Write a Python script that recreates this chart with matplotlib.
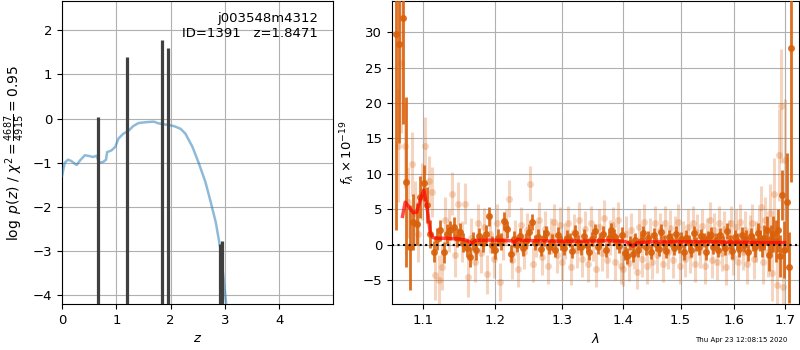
import numpy as np
import matplotlib
matplotlib.use('Agg')
import matplotlib.pyplot as plt
from matplotlib.ticker import NullLocator

# ---- redshift fit: log p(z) curve and spikes
pz_z = [0, 0.05, 0.11, 0.17, 0.27, 0.33, 0.42, 0.51, 0.57, 0.64, 0.68, 0.76,
        0.81, 0.83, 0.91, 0.98, 1.04, 1.13, 1.22, 1.31, 1.41, 1.56, 1.69, 1.78,
        1.93, 2.06, 2.18, 2.27, 2.40, 2.52, 2.64, 2.73, 2.83, 2.92, 3.03]
pz_log = [-1.3, -1.0, -0.93, -0.96, -1.05, -0.95, -0.83, -0.85, -0.87, -0.84,
          -1.0, -0.98, -0.93, -0.76, -0.72, -0.64, -0.45, -0.34, -0.28, -0.17,
          -0.10, -0.08, -0.07, -0.11, -0.14, -0.17, -0.23, -0.34, -0.64, -1.02,
          -1.44, -1.86, -2.35, -2.99, -4.3]
spike_z = [0.664, 1.192, 1.849, 1.954, 2.91, 2.943]
spike_peak = [0.04, 1.39, 1.77, 1.60, -2.84, -2.77]

# ---- 1D spectrum (binned, dark)
lam_dark = [1.0650, 1.0695, 1.0740, 1.0785, 1.0830, 1.0875, 1.0920, 1.0965, 1.1010, 1.1055,
            1.1100, 1.1145, 1.1190, 1.1235, 1.1280, 1.1325, 1.1370, 1.1415, 1.1460, 1.1505,
            1.1550, 1.1595, 1.1640, 1.1685, 1.1730, 1.1775, 1.1820, 1.1865, 1.1910, 1.1955,
            1.2000, 1.2045, 1.2090, 1.2135, 1.2180, 1.2225, 1.2270, 1.2315, 1.2360, 1.2405,
            1.2450, 1.2495, 1.2540, 1.2585, 1.2630, 1.2675, 1.2720, 1.2765, 1.2810, 1.2855,
            1.2900, 1.2945, 1.2990, 1.3035, 1.3080, 1.3125, 1.3170, 1.3215, 1.3260, 1.3305,
            1.3350, 1.3395, 1.3440, 1.3485, 1.3530, 1.3575, 1.3620, 1.3665, 1.3710, 1.3755,
            1.3800, 1.3845, 1.3890, 1.3935, 1.3980, 1.4025, 1.4070, 1.4115, 1.4160, 1.4205,
            1.4250, 1.4295, 1.4340, 1.4385, 1.4430, 1.4475, 1.4520, 1.4565, 1.4610, 1.4655,
            1.4700, 1.4745, 1.4790, 1.4835, 1.4880, 1.4925, 1.4970, 1.5015, 1.5060, 1.5105,
            1.5150, 1.5195, 1.5240, 1.5285, 1.5330, 1.5375, 1.5420, 1.5465, 1.5510, 1.5555,
            1.5600, 1.5645, 1.5690, 1.5735, 1.5780, 1.5825, 1.5870, 1.5915, 1.5960, 1.6005,
            1.6050, 1.6095, 1.6140, 1.6185, 1.6230, 1.6275, 1.6320, 1.6365, 1.6410, 1.6455,
            1.6500, 1.6545, 1.6590, 1.6635, 1.6680, 1.6725, 1.6770, 1.6815, 1.6860, 1.6905,
            1.6950, 1.6995, 1.7040, 1.7085, 1.7130]
flux_dark = [29.7, 28.3, 32.0, 8.9, -0.4, 3.2, 2.9, 6.7, 8.7, 5.6,
             1.5, -1.0, 0.8, 2.0, -1.1, 1.5, 2.0, 2.5, 1.0, 1.8,
             0.3, -0.5, -1.8, 0.5, -0.8, 1.2, 0.2, 1.5, 4.0, 0.0,
             -0.8, 1.0, 0.5, 3.3, 2.2, -1.3, 0.8, 0.0, 1.2, -0.5,
             0.5, 1.8, 3.2, 0.3, 1.1, -0.6, 0.9, 1.6, -0.3, 0.4,
             -0.8, 1.4, 0.2, -0.5, 1.0, 0.6, -0.9, 1.7, 0.3, -0.4,
             1.2, 0.0, -1.0, 0.8, 1.9, -0.3, 0.7, 1.5, -0.7, 0.9,
             2.0, 1.2, 0.4, -0.2, 1.4, -1.2, -1.6, 0.2, -1.3, 0.6,
             -0.8, 0.5, 1.6, -0.4, 0.9, -1.0, 1.3, 0.1, -0.6, 1.8,
             0.3, -0.9, 1.1, 0.6, -0.5, 1.5, -0.2, 0.8, -1.1, 1.0,
             0.4, -0.7, 1.6, 0.1, -0.4, 1.2, 0.7, -1.0, 0.9, 1.4,
             -0.3, 0.6, -0.8, 1.3, 0.2, -0.5, 1.9, 0.4, -0.9, 1.1,
             0.5, -0.6, 1.4, 0.0, 0.8, -1.1, 1.2, 0.3, -0.4, 1.7,
             0.6, -0.2, 1.0, 2.0, -1.5, 0.8, 1.5, 0.5, 2.0, -1.6,
             7.0, -0.7, 6.0, -3.2, 27.8]
err_dark = [27.6, 14.0, 15.0, 12.0, 6.0, 4.0, 3.0, 3.0, 2.5, 2.5,
            2.0, 1.5, 1.5, 1.5, 1.5, 1.4, 1.4, 1.4, 1.3, 1.3,
            1.3, 1.3, 1.4, 1.3, 1.3, 1.2, 1.2, 1.3, 1.3, 1.2,
            1.2, 1.2, 1.2, 1.3, 1.2, 1.2, 1.1, 1.1, 1.1, 1.1,
            1.1, 1.1, 1.2, 1.1, 1.1, 1.0, 1.1, 1.0, 1.0, 1.1,
            1.0, 1.1, 1.0, 1.0, 1.1, 1.0, 1.0, 1.1, 1.0, 1.0,
            1.0, 1.0, 1.1, 1.0, 1.0, 1.0, 1.0, 1.1, 1.0, 1.0,
            1.1, 1.0, 1.0, 1.0, 1.1, 1.0, 1.1, 1.0, 1.1, 1.0,
            1.0, 1.0, 1.1, 1.0, 1.0, 1.0, 1.1, 1.0, 1.0, 1.1,
            1.0, 1.0, 1.0, 1.0, 1.0, 1.1, 1.0, 1.0, 1.1, 1.0,
            1.0, 1.0, 1.1, 1.0, 1.0, 1.0, 1.0, 1.1, 1.0, 1.1,
            1.0, 1.0, 1.0, 1.1, 1.0, 1.0, 1.1, 1.0, 1.1, 1.0,
            1.1, 1.1, 1.1, 1.1, 1.2, 1.2, 1.2, 1.2, 1.3, 1.3,
            1.5, 1.6, 1.8, 2.0, 2.2, 2.0, 2.5, 3.0, 3.0, 3.0,
            3.5, 4.0, 7.0, 5.0, 19.0]

# ---- 1D spectrum (unbinned, faint)
lam_light = [1.0672, 1.0717, 1.0762, 1.0807, 1.0852, 1.0897, 1.0942, 1.0987, 1.1032, 1.1077,
             1.1122, 1.1167, 1.1212, 1.1257, 1.1302, 1.1347, 1.1392, 1.1437, 1.1482, 1.1527,
             1.1572, 1.1617, 1.1662, 1.1707, 1.1752, 1.1797, 1.1842, 1.1887, 1.1932, 1.1977,
             1.2022, 1.2067, 1.2112, 1.2157, 1.2202, 1.2247, 1.2292, 1.2337, 1.2382, 1.2427,
             1.2472, 1.2517, 1.2562, 1.2607, 1.2652, 1.2697, 1.2742, 1.2787, 1.2832, 1.2877,
             1.2922, 1.2967, 1.3012, 1.3057, 1.3102, 1.3147, 1.3192, 1.3237, 1.3282, 1.3327,
             1.3372, 1.3417, 1.3462, 1.3507, 1.3552, 1.3597, 1.3642, 1.3687, 1.3732, 1.3777,
             1.3822, 1.3867, 1.3912, 1.3957, 1.4002, 1.4047, 1.4092, 1.4137, 1.4182, 1.4227,
             1.4272, 1.4317, 1.4362, 1.4407, 1.4452, 1.4497, 1.4542, 1.4587, 1.4632, 1.4677,
             1.4722, 1.4767, 1.4812, 1.4857, 1.4902, 1.4947, 1.4992, 1.5037, 1.5082, 1.5127,
             1.5172, 1.5217, 1.5262, 1.5307, 1.5352, 1.5397, 1.5442, 1.5487, 1.5532, 1.5577,
             1.5622, 1.5667, 1.5712, 1.5757, 1.5802, 1.5847, 1.5892, 1.5937, 1.5982, 1.6027,
             1.6072, 1.6117, 1.6162, 1.6207, 1.6252, 1.6297, 1.6342, 1.6387, 1.6432, 1.6477,
             1.6522, 1.6567, 1.6612, 1.6657, 1.6702, 1.6747, 1.6792, 1.6837, 1.6882, 1.6927,
             1.6972, 1.7017]
flux_light = [14.0, 25.7, 14.0, 6.0, 11.4, 4.5, 1.5, 7.5, 14.0, 9.0,
              7.4, -4.3, -5.0, -3.2, 3.5, 2.0, 7.2, -1.5, 5.8, 0.5,
              5.8, -4.5, 1.0, -2.5, 3.0, -1.2, 2.5, -4.2, 1.5, -2.0,
              3.0, -5.3, 0.5, 2.5, 6.5, -2.2, 1.0, -3.5, 2.8, -1.0,
              2.0, 8.6, -2.8, 0.8, 3.5, -1.8, 2.2, -3.0, 1.2, 3.2,
              -1.5, 2.8, -2.5, 0.5, 3.0, -3.2, 1.8, -0.8, 3.5, -2.0,
              2.2, -2.8, 3.0, 0.2, -3.5, 2.5, -1.2, 3.8, -2.2, 1.0,
              2.8, -2.5, 3.5, -3.0, -3.4, 1.5, -2.6, 2.0, -1.0, -3.8,
              2.5, -2.0, 3.2, -3.0, 1.2, -2.4, 3.0, -1.5, 2.0, -2.8,
              3.0, -1.0, 2.4, -2.2, 1.5, 3.2, -3.0, 0.8, -2.0, 2.5,
              -1.5, 3.0, -2.8, 1.8, -0.8, 2.6, -3.0, 1.2, 3.5, -2.2,
              2.0, -2.5, 3.0, -1.2, 2.2, -3.2, 1.0, 3.0, -1.8, 2.5,
              -2.4, 3.2, -1.0, 2.0, -2.8, 1.5, 3.0, -2.0, 0.5, 2.2,
              5.3, -2.5, 3.5, -1.0, 4.5, -4.0, 7.2, -5.7, 12.6, 19.6,
              -6.0, 12.0]
err_light = [8.0, 10.0, 6.0, 5.0, 4.5, 4.5, 4.0, 4.0, 4.0, 3.5,
             3.5, 3.5, 3.5, 3.2, 3.2, 3.0, 3.0, 3.0, 3.0, 2.9,
             2.9, 2.9, 2.8, 2.8, 2.8, 2.8, 2.7, 2.7, 2.7, 2.7,
             2.7, 2.7, 2.6, 2.6, 2.6, 2.6, 2.5, 2.5, 2.5, 2.5,
             2.5, 2.5, 2.5, 2.5, 2.5, 2.5, 2.5, 2.5, 2.5, 2.5,
             2.5, 2.5, 2.5, 2.5, 2.5, 2.5, 2.5, 2.5, 2.5, 2.5,
             2.5, 2.5, 2.5, 2.5, 2.5, 2.5, 2.5, 2.5, 2.5, 2.5,
             2.5, 2.5, 2.5, 2.5, 2.5, 2.5, 2.5, 2.5, 2.5, 2.5,
             2.5, 2.5, 2.5, 2.5, 2.5, 2.5, 2.5, 2.5, 2.5, 2.5,
             2.5, 2.5, 2.5, 2.5, 2.5, 2.5, 2.5, 2.5, 2.5, 2.5,
             2.5, 2.5, 2.5, 2.5, 2.5, 2.5, 2.5, 2.5, 2.5, 2.5,
             2.5, 2.5, 2.5, 2.5, 2.5, 2.5, 2.5, 2.5, 2.5, 2.5,
             2.6, 2.6, 2.6, 2.7, 2.7, 2.7, 2.8, 2.8, 2.9, 2.9,
             3.0, 3.0, 3.2, 3.5, 4.0, 4.0, 5.0, 5.5, 6.5, 8.0,
             6.5, 8.5]

# ---- best-fit model
model_lam = [1.0735, 1.077, 1.082, 1.0875, 1.092, 1.097, 1.1013, 1.1057, 1.110, 1.1137,
             1.12, 1.13, 1.14, 1.15, 1.16, 1.1665, 1.172, 1.19, 1.21, 1.224,
             1.2275, 1.233, 1.24, 1.26, 1.30, 1.34, 1.37, 1.40, 1.408, 1.416,
             1.424, 1.45, 1.50, 1.55, 1.60, 1.65, 1.70]
model_flux = [4.0, 6.0, 5.3, 4.5, 4.6, 6.5, 7.7, 5.3, 1.6, 1.0,
              0.9, 0.9, 0.85, 0.8, 0.6, 0.2, 0.6, 0.65, 0.6, 0.55,
              0.3, 0.75, 0.6, 0.55, 0.5, 0.5, 0.55, 0.5, 0.3, -0.2,
              0.3, 0.4, 0.4, 0.4, 0.35, 0.3, 0.3]

lam_ticks = [1.1, 1.2, 1.3, 1.4, 1.5, 1.6, 1.7]

plt.rcParams['font.size'] = 9.5
orange = '#d9600a'

fig = plt.figure(figsize=(8, 3.5), dpi=100)
ax1 = fig.add_axes([0.0775, 0.131, 0.339, 0.866])
ax2 = fig.add_axes([0.49, 0.131, 0.509, 0.866])

# left panel
ax1.plot(pz_z, pz_log, color='tab:blue', alpha=0.5, lw=1.8, zorder=3)
ax1.vlines(spike_z, -5, spike_peak, color='0.25', lw=2.3, zorder=4)
ax1.set_xlim(0, 4.99)
ax1.set_ylim(-4.2, 2.66)
ax1.set_xticks([0, 1, 2, 3, 4])
ax1.set_yticks([-4, -3, -2, -1, 0, 1, 2])
ax1.grid(True)
ax1.set_xlabel('$z$')
ax1.set_ylabel(r'$\log\ p(z)$ / $\chi^2=\frac{4687}{4915}=0.95$', fontsize=10)
ax1.text(0.945, 0.965, 'j003548m4312\nID=1391   z=1.8471', transform=ax1.transAxes,
         ha='right', va='top', multialignment='right')

# right panel
ax2.errorbar(lam_light, flux_light, err_light, fmt='o', color=orange, alpha=0.26,
             ms=5, elinewidth=2.2, mew=0, zorder=2)
ax2.errorbar(lam_dark, flux_dark, err_dark, fmt='o', color=orange, alpha=0.9,
             ms=5, elinewidth=2, mew=0, zorder=3)
ax2.plot(model_lam, model_flux, color='r', alpha=0.7, lw=2.5, zorder=4)
ax2.axhline(0, color='k', ls=':', lw=1.5, zorder=5)
ax2.set_xscale('log')
ax2.set_xlim(1.060, 1.730)
ax2.set_xticks(lam_ticks)
ax2.set_xticklabels([f'{t:.1f}' for t in lam_ticks])
ax2.xaxis.set_minor_locator(NullLocator())
ax2.set_ylim(-8.4, 34.4)
ax2.set_yticks([-5, 0, 5, 10, 15, 20, 25, 30])
ax2.grid(True)
ax2.set_xlabel(r'$\lambda$')
ax2.set_ylabel(r'$f_\lambda \times 10^{-19}$')

fig.text(0.984, 0.028, 'Thu Apr 23 12:08:15 2020', ha='right', va='center', fontsize=5)

fig.savefig('out.png', dpi=100)
